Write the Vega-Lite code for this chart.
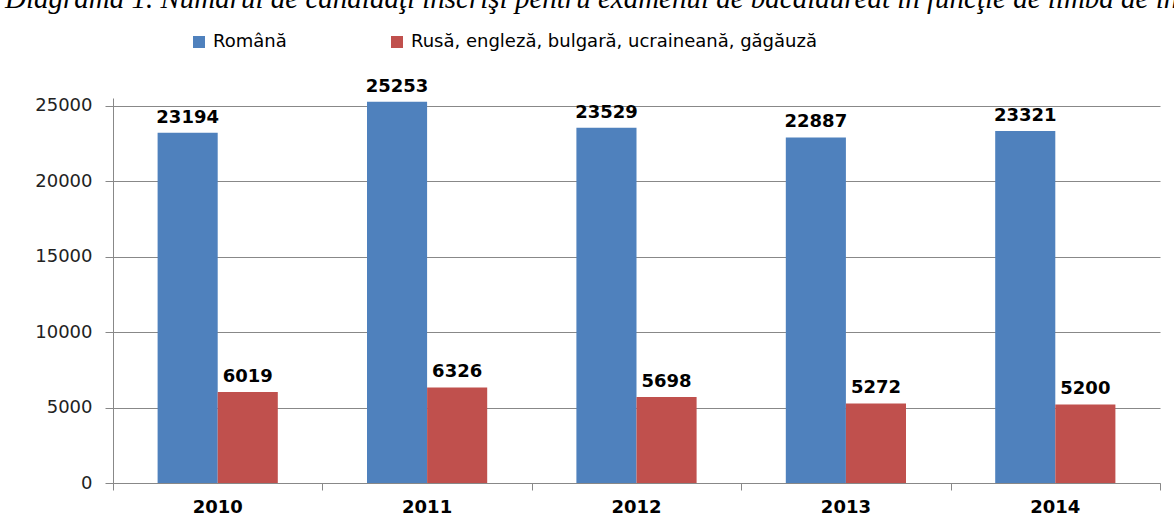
{
  "$schema": "https://vega.github.io/schema/vega-lite/v6.json",
  "width": 1047,
  "height": 385,
  "autosize": {"type": "none"},
  "padding": {"left": 113, "top": 98, "right": 14, "bottom": 43},
  "title": {
    "text": "Diagrama 1. Numărul de candidaţi înscrişi pentru examenul de bacalaureat în funcţie de  limba de instruire",
    "font": "Liberation Serif",
    "fontStyle": "italic",
    "fontWeight": "normal",
    "fontSize": 29,
    "color": "#000000",
    "anchor": "start",
    "frame": "group",
    "dx": -108,
    "offset": 19
  },
  "data": {
    "values": [
      {"year": "2010", "lang": "Română", "value": 23194},
      {"year": "2010", "lang": "Rusă, engleză, bulgară, ucraineană, găgăuză", "value": 6019},
      {"year": "2011", "lang": "Română", "value": 25253},
      {"year": "2011", "lang": "Rusă, engleză, bulgară, ucraineană, găgăuză", "value": 6326},
      {"year": "2012", "lang": "Română", "value": 23529},
      {"year": "2012", "lang": "Rusă, engleză, bulgară, ucraineană, găgăuză", "value": 5698},
      {"year": "2013", "lang": "Română", "value": 22887},
      {"year": "2013", "lang": "Rusă, engleză, bulgară, ucraineană, găgăuză", "value": 5272},
      {"year": "2014", "lang": "Română", "value": 23321},
      {"year": "2014", "lang": "Rusă, engleză, bulgară, ucraineană, găgăuză", "value": 5200}
    ]
  },
  "encoding": {
    "y": {
      "field": "value",
      "type": "quantitative",
      "title": null,
      "scale": {"domain": [0, 25500], "nice": false},
      "axis": {
        "values": [0, 5000, 10000, 15000, 20000, 25000],
        "format": "d",
        "labelFont": "DejaVu Sans",
        "labelFontSize": 18,
        "labelColor": "#222222",
        "labelPadding": 13,
        "tickSize": 8,
        "tickColor": "#888888",
        "domainColor": "#888888",
        "gridColor": "#888888",
        "gridWidth": 1
      }
    }
  },
  "layer": [
    {
      "encoding": {
        "x": {
          "field": "year",
          "type": "nominal",
          "title": null,
          "scale": {"paddingInner": 0.426, "paddingOuter": 0.213},
          "axis": {
            "orient": "bottom",
            "labelAngle": 0,
            "labelFont": "DejaVu Sans",
            "labelFontWeight": "bold",
            "labelFontSize": 18,
            "labelColor": "#000000",
            "labelPadding": 15,
            "ticks": false,
            "domain": false,
            "grid": false
          }
        },
        "xOffset": {
          "field": "lang",
          "type": "nominal",
          "scale": {"paddingInner": 0, "paddingOuter": 0, "domain": ["Română", "Rusă, engleză, bulgară, ucraineană, găgăuză"]}
        }
      },
      "layer": [
        {
          "mark": {"type": "bar", "stroke": null},
          "encoding": {
            "color": {
              "field": "lang",
              "type": "nominal",
              "title": null,
              "scale": {"domain": ["Română", "Rusă, engleză, bulgară, ucraineană, găgăuză"], "range": ["#4F81BD", "#C0504D"]},
              "legend": {
                "orient": "none",
                "direction": "horizontal",
                "columns": 2,
                "legendX": 77,
                "legendY": -65,
                "padding": 0,
                "symbolType": "square",
                "symbolSize": 144,
                "symbolStrokeWidth": 0,
                "labelFont": "DejaVu Sans",
                "labelFontSize": 18,
                "labelColor": "#000000",
                "labelOffset": 5,
                "labelLimit": 600,
                "columnPadding": 101
              }
            }
          }
        },
        {
          "mark": {"type": "text", "dy": -6, "font": "DejaVu Sans", "fontWeight": "bold", "fontSize": 18, "color": "#000000", "baseline": "bottom"},
          "encoding": {"text": {"field": "value", "type": "quantitative", "format": "d"}}
        }
      ]
    },
    {
      "mark": {"type": "rule", "opacity": 0},
      "encoding": {
        "x": {
          "field": "year",
          "type": "nominal",
          "title": null,
          "scale": {"paddingInner": 0, "paddingOuter": 0},
          "axis": {
            "orient": "bottom",
            "tickBand": "extent",
            "labels": false,
            "tickSize": 7,
            "tickColor": "#888888",
            "domainColor": "#888888",
            "grid": false
          }
        }
      }
    }
  ],
  "resolve": {"scale": {"x": "independent"}, "axis": {"x": "independent"}},
  "config": {"view": {"stroke": null}}
}
